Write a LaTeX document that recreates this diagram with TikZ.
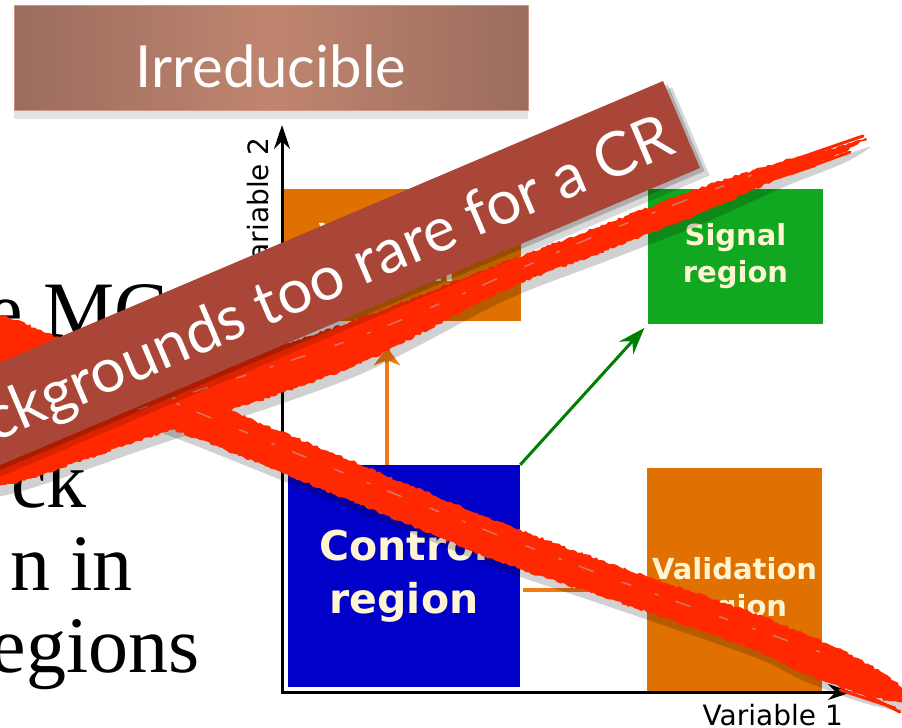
\documentclass[tikz,border=0pt]{standalone}
\usepackage{fontspec}
\setmainfont{Liberation Serif}
\newfontfamily\gillfont{Lato}
\newfontfamily\vera{DejaVu Sans}
\usetikzlibrary{arrows.meta, shadows, decorations.pathmorphing}

\definecolor{titleedge}{RGB}{155,108,94}
\definecolor{titlemid}{RGB}{192,133,112}
\definecolor{titleline}{RGB}{205,150,130}
\definecolor{cregblue}{RGB}{0,0,200}
\definecolor{sreggreen}{RGB}{16,168,32}
\definecolor{vregorange}{RGB}{224,112,0}
\definecolor{arroworange}{RGB}{242,122,18}
\definecolor{arrowgreen}{RGB}{0,128,0}
\definecolor{cream}{RGB}{255,245,210}
\definecolor{bannerred}{RGB}{170,70,56}
\definecolor{scribble}{RGB}{255,40,0}
\definecolor{scribblegap}{RGB}{200,150,140}

\begin{document}
\begin{tikzpicture}[x=1pt, y=-1pt,
  bodytext/.style={font=\fontsize{80}{80}\selectfont, inner sep=0pt},
  titlebox/.style={rectangle, minimum width=514pt, minimum height=105pt, inner sep=0pt,
    left color=titleedge, right color=titleedge, middle color=titlemid, draw=titleline, line width=1pt,
    text=white, font=\gillfont\fontsize{58}{58}\selectfont, text height=60pt, text depth=0pt,
    drop shadow={opacity=0.22, shadow xshift=0pt, shadow yshift=-9pt}},
  regionbox/.style={rectangle, inner sep=0pt, text=cream, align=center},
  smalltext/.style={font=\vera\bfseries\fontsize{29}{37}\selectfont},
  bigtext/.style={font=\vera\bfseries\fontsize{41}{53}\selectfont},
  axislabel/.style={font=\vera\fontsize{28}{28}\selectfont, inner sep=0pt},
  axisline/.style={line width=3pt, {Stealth[length=24pt,width=16pt,inset=8pt]}-{Stealth[length=24pt,width=16pt,inset=8pt]}},
  flowarrow/.style={line width=4pt, arroworange, -{Stealth[length=18pt,width=26pt,inset=5pt]}},
  greenflow/.style={line width=3pt, arrowgreen, -{Stealth[length=27pt,width=19pt,inset=9pt]}},
  roughfill/.style={fill=scribble, decorate, decoration={random steps, segment length=3pt, amplitude=1.3pt}},
  roughshadow/.style={fill=black, opacity=0.18},
  streak/.style={scribble, line width=3pt, line cap=round},
  brushgap/.style={scribblegap, line width=1.5pt, opacity=0.7, dash pattern=on 10pt off 25pt on 4pt off 18pt on 16pt off 30pt},
  bannertext/.style={font=\gillfont\fontsize{61.5}{62}\selectfont, text=white, inner sep=0pt}]
  \useasboundingbox (0,0) rectangle (902,728);
  \clip (0,0) rectangle (902,728);
  \fill[white] (0,0) rectangle (902,728);

  % slide text left of the plot
  \node[bodytext, anchor=base west] (line1) at (-12.5,337) {e MC};
  \node[bodytext, anchor=base east] (line3) at (87,507) {ck};
  \node[bodytext, anchor=base east] (line4) at (133,590) {n in};
  \node[bodytext, anchor=base east] (line5) at (200,672) {egions};

  \node[titlebox] (title) at (271,57.5) {Irreducible};

  % regions
  \node[regionbox, fill=vregorange, minimum width=239pt, minimum height=132pt, smalltext] (valup) at (401.5,255) {Validation\\region};
  \node[regionbox, fill=cregblue, minimum width=232pt, minimum height=222pt, bigtext] (control) at (404,576) {Control\\region};
  \node[regionbox, fill=sreggreen, minimum width=175pt, minimum height=135pt, smalltext] (signal) at (735.5,256.5) {Signal\\region};
  \node[regionbox, fill=vregorange, minimum width=175pt, minimum height=224pt] (vallow) at (734.5,580) {};
  \node[regionbox, smalltext] (vallowtext) at ([yshift=-10pt]vallow.center) {Validation\\region};

  % axes
  \coordinate (origin) at (282,692);
  \coordinate (xtip) at (852,692);
  \coordinate (ytip) at (282,125);
  \draw[axisline] (ytip) -- (origin) -- (xtip);
  \node[axislabel, anchor=base east] (xlabel) at (843,725) {Variable 1};
  \node[axislabel, rotate=90, anchor=base east] (ylabel) at (268,137) {Variable 2};

  \draw[flowarrow, shorten >=26pt] ([xshift=-17pt]control.north) -- ([xshift=-14.5pt]valup.south);
  \draw[greenflow, shorten >=5pt] (control.north east) -- (signal.south west);
  \draw[flowarrow, shorten <=3pt, shorten >=5pt] ([yshift=-14pt]control.east) -- ([yshift=-10pt]vallow.west);

  % red cross
  \newcommand{\scratchA}{plot[smooth cycle, tension=0.5] coordinates {(-10,440) (150,387) (350,322) (500,264) (600,226) (700,188) (780,162) (840,146) (866,138) (840,154) (780,178) (700,214) (600,253) (500,292) (350,368) (150,437) (-10,488)}}
  \newcommand{\scratchB}{plot[smooth cycle, tension=0.5] coordinates {(-10,312) (200,398) (400,481) (500,522) (600,560) (750,612) (830,645) (870,665) (902,688) (902,702) (860,694) (800,672) (750,648) (600,596) (500,562) (400,521) (200,440) (-10,358)}}
  \fill[roughshadow, xshift=4pt, yshift=-9pt] \scratchA;
  \fill[roughshadow, xshift=4pt, yshift=-9pt] \scratchB;
  \fill[roughfill] \scratchA;
  \fill[roughfill] \scratchB;
  \draw[brushgap] plot[smooth] coordinates {(40,440) (350,340) (600,234) (760,172)};
  \draw[brushgap, dash phase=12pt] plot[smooth] coordinates {(60,355) (400,496) (600,574) (820,652)};
  \draw[streak] (770,168) -- (863,136);
  \draw[streak] (790,174) -- (850,152);
  \draw[streak, line width=2pt] (760,184) -- (815,166);
  \draw[streak] (820,672) -- (900,712);
  \draw[streak] (840,690) -- (895,708);
  \draw[streak, line width=2pt] (830,662) -- (878,682);

  % banner
  \begin{scope}[shift={(681.5,124.5)}, rotate=23]
    \fill[black, opacity=0.15] (-1000,-38) rectangle (6,58);
    \fill[black, opacity=0.2] (-1000,-42) rectangle (3,52);
    \fill[bannerred] (-1000,-47.25) rectangle (0,47.25);
    \node[bannertext, anchor=base east, transform shape] (banner) at (-14,24) {ckgrounds too rare for a CR};
  \end{scope}
\end{tikzpicture}
\end{document}
